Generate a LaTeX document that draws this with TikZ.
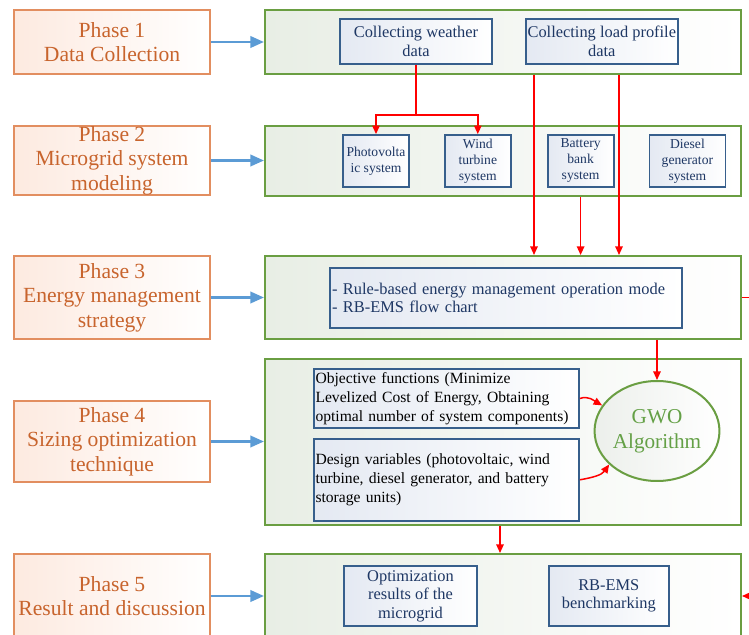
\documentclass[tikz,border=0pt]{standalone}
\usepackage{fontspec}
\setmainfont{Liberation Serif}
\usetikzlibrary{positioning,arrows.meta,shapes.geometric}
\definecolor{phaseline}{RGB}{226,142,96}
\definecolor{phasefill}{RGB}{253,234,224}
\definecolor{phasetext}{RGB}{200,100,45}
\definecolor{stageline}{RGB}{106,158,66}
\definecolor{stagefill}{RGB}{232,238,229}
\definecolor{itemline}{RGB}{55,95,140}
\definecolor{itemfill}{RGB}{228,233,242}
\definecolor{itemtext}{RGB}{30,55,100}
\definecolor{gwofill}{RGB}{236,239,235}
\definecolor{gwotext}{RGB}{100,160,70}
\definecolor{arrowblue}{RGB}{91,155,213}

\begin{document}
\begin{tikzpicture}[
  x=0.5pt, y=-0.5pt,
  phase/.style={draw=phaseline, line width=0.6pt, left color=phasefill,
                right color=white, text=phasetext, align=center,
                inner sep=0pt, minimum width=98pt,
                font=\fontsize{10.8}{12.3}\selectfont},
  stage/.style={draw=stageline, line width=1pt, left color=stagefill,
                right color=white, inner sep=0pt, minimum width=238pt},
  item/.style={draw=itemline, line width=0.9pt, left color=itemfill,
               right color=white, text=itemtext, align=center,
               inner sep=0.5pt, font=\fontsize{8.2}{9.3}\selectfont},
  small/.style={item, font=\fontsize{6.8}{8}\selectfont,
                minimum width=33pt, minimum height=26pt},
  note/.style={item, text=black, align=left, text width=131pt,
               inner xsep=0.75pt, font=\fontsize{7.8}{9.4}\selectfont},
  arr/.style={-{Triangle[length=2.4mm, width=2mm]}, line width=1.3pt,
              draw=arrowblue},
  flow/.style={-{Triangle[length=1.5mm, width=1.3mm]}, line width=0.75pt,
               draw=red}
]
\useasboundingbox (0,0) rectangle (749,635);
\clip (0,0) rectangle (749,635);

% phases
\node[phase, minimum height=32pt] (p1) at (112,42) {Phase 1\\Data Collection};
\node[phase, minimum height=34.5pt] (p2) at (112,160.5)
  {Phase 2\\Microgrid system\\modeling};
\node[phase, minimum height=41.5pt] (p3) at (112,297.5)
  {Phase 3\\Energy management\\strategy};
\node[phase, minimum height=40.5pt] (p4) at (112,441.5)
  {Phase 4\\Sizing optimization\\technique};
\node[phase, minimum height=42pt] (p5) at (112,596)
  {Phase 5\\Result and discussion};

% stages
\node[stage, minimum height=32pt] (g1) at (503,42) {};
\node[stage, minimum height=35pt] (g2) at (503,161) {};
\node[stage, minimum height=41.5pt] (g3) at (503,297.5) {};
\node[stage, minimum height=83pt] (g4) at (503,442) {};
\node[stage, minimum height=42pt] (g5) at (503,596) {};

% stage 1
\node[item, minimum width=76pt, minimum height=22.5pt] (weather) at (416,41.5)
  {Collecting weather\\data};
\node[item, minimum width=76pt, minimum height=22.5pt, right=16pt of weather]
  (load) {Collecting load profile\\data};

% stage 2
\node[small] (pv) at (376,161) {Photovolta\\ic system};
\node[small, right=17pt of pv] (wt) {Wind\\turbine\\system};
\node[small, right=17.5pt of wt] (bb) {Battery\\bank\\system};
\node[small, minimum width=38pt, right=17pt of bb] (dg)
  {Diesel\\generator\\system};

% stage 3
\node[item, align=left, text width=174pt, inner xsep=1pt, minimum height=30pt]
  (rb) at (506,298)
  {- Rule-based energy management operation mode\\- RB-EMS flow chart};

% stage 4
\node[note, minimum height=29.5pt] (obj) at (446.5,398.5)
  {Objective functions (Minimize\\Levelized Cost of Energy, Obtaining\\
   optimal number of system components)};
\node[note, minimum height=41pt, below=4.5pt of obj] (des)
  {Design variables (photovoltaic, wind\\turbine, diesel generator, and battery\\
   storage units)};
\node[ellipse, draw=stageline, line width=1pt, left color=gwofill,
      right color=white, text=gwotext, align=center, inner sep=0pt,
      minimum width=58pt, minimum height=50pt,
      font=\fontsize{10.6}{12.5}\selectfont] (gwo) at (657,431)
  {GWO\\Algorithm};

% stage 5
\node[item, minimum width=66.5pt, minimum height=30pt] (opt) at (410.5,596)
  {Optimization\\results of the\\microgrid};
\node[item, minimum width=60pt, minimum height=30pt, right=35pt of opt]
  (bench) {RB-EMS\\benchmarking};

\coordinate (l1) at (534,0);
\coordinate (l2) at (619,0);
\coordinate (l3) at (500,0);

% phase to stage
\foreach \i in {1,...,5}
  \draw[arr] (p\i.east) -- (p\i.east -| g\i.west);

% data flow
\draw[flow] (weather.south) -- ++(0,50) -| (pv.north);
\draw[flow] (weather.south) -- ++(0,50) -| (wt.north);
\draw[flow] (g1.south -| l1) -- (g3.north -| l1);
\draw[flow] (g1.south -| l2) -- (g3.north -| l2);
\draw[flow] (g2.south -| bb) -- (g3.north -| bb);
\draw[flow] (g3.south -| gwo) -- (gwo.north);
\draw[flow] (obj.east) to[out=20, in=150] (gwo.155);
\draw[flow] (des.east) to[out=10, in=235] (gwo.215);
\draw[flow] (g4.south -| l3) -- (g5.north -| l3);
\draw[flow] (g3.east) -- ++(16,0) |- (g5.east);
\end{tikzpicture}
\end{document}
